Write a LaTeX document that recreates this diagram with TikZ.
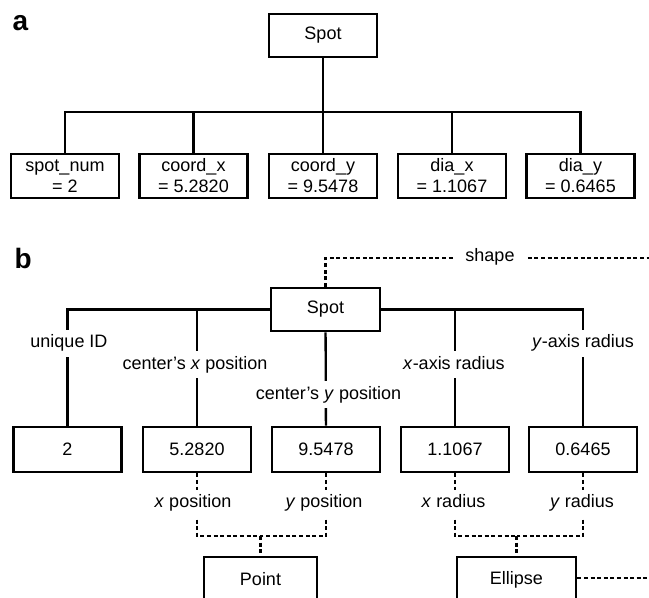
\documentclass[tikz,border=0pt]{standalone}
\usepackage{fontspec}
\setmainfont{Liberation Sans}
\usetikzlibrary{positioning}

\begin{document}
\begin{tikzpicture}[x=1pt,y=-1pt,
    every node/.style={font=\fontsize{18}{21}\selectfont},
    box/.style={draw,line width=2.6pt,minimum width=108pt,minimum height=44pt,inner sep=0pt,align=center},
    lbl/.style={fill=white,inner xsep=2pt,inner ysep=5pt,text height=13pt,text depth=4pt},
    panel/.style={anchor=base west,font=\fontsize{28}{28}\selectfont\bfseries},
    conn/.style={line width=2.3pt},
    dashln/.style={line width=2.3pt,dash pattern=on 4pt off 2.6pt}]
    \useasboundingbox (0,0) rectangle (649,598);
    \clip (0,0) rectangle (649,598);
    % panel a
    \node[panel] (lblA) at (9,30) {a};
    \node[box,minimum height=43pt] (spotA) at (323,35.5) {Spot};
    \coordinate (busA) at (323,112);
    \foreach \name/\val/\x [count=\i] in {spot\_num/2/65, coord\_x/5.2820/193.5, coord\_y/9.5478/323, dia\_x/1.1067/452, dia\_y/0.6465/580.5} {
        \node[box] (a\i) at (\x,176) {\name\\= \val};
    }
    \draw[conn] (spotA) -- (busA);
    \foreach \i in {1,...,5} {
        \draw[conn] (a\i.north) |- (busA);
    }
    % panel b
    \node[panel] (lblB) at (11,268) {b};
    \node[box,minimum width=109pt,minimum height=43pt] (spotB) at (325.5,309.5) {Spot};
    \foreach \val/\x [count=\i] in {2/67.5, 5.2820/197, 9.5478/326, 1.1067/455, 0.6465/583} {
        \node[box,minimum height=45pt] (b\i) at (\x,449.5) {\val};
    }
    \draw[conn] (b1.north) |- (spotB.west);
    \draw[conn] (b2.north) |- (spotB.west);
    \draw[conn] (spotB) -- (b3);
    \draw[conn] (b4.north) |- (spotB.east);
    \draw[conn] (b5.north) |- (spotB.east);
    \node[lbl] (uid) at (69,343) {unique ID};
    \node[lbl] (cx) at (195,364.5) {center’s \textit{x} position};
    \node[lbl] (cy) at (328.5,394.5) {center’s \textit{y} position};
    \node[lbl] (rx) at (454,364.5) {\textit{x}-axis radius};
    \node[lbl] (ry) at (583,343) {\textit{y}-axis radius};
    % shape classes
    \node[box,minimum width=113pt,minimum height=45pt] (point) at (260.5,579.5) {Point};
    \node[box,minimum width=119pt,minimum height=45pt] (ellipse) at (516.5,579.5) {Ellipse};
    \coordinate (ptJoin) at (260.5,536);
    \coordinate (elJoin) at (516.5,536);
    \coordinate (shapeEnd) at (660,258);
    \coordinate (elEnd) at (660,578);
    \draw[dashln] (b2.south) |- (ptJoin);
    \draw[dashln] (b3.south) |- (ptJoin);
    \draw[dashln] (ptJoin) -- (point.north);
    \draw[dashln] (b4.south) |- (elJoin);
    \draw[dashln] (b5.south) |- (elJoin);
    \draw[dashln] (elJoin) -- (ellipse.north);
    \draw[dashln] (spotB.north) |- (shapeEnd);
    \draw[dashln] (ellipse.east |- elEnd) -- (elEnd);
    \node[lbl] (px) at (193,503) {\textit{x} position};
    \node[lbl] (py) at (324,503) {\textit{y} position};
    \node[lbl] (ex) at (453.5,503) {\textit{x} radius};
    \node[lbl] (ey) at (582,503) {\textit{y} radius};
    \node[lbl,inner xsep=12pt] (shape) at (490,257) {shape};
\end{tikzpicture}
\end{document}
